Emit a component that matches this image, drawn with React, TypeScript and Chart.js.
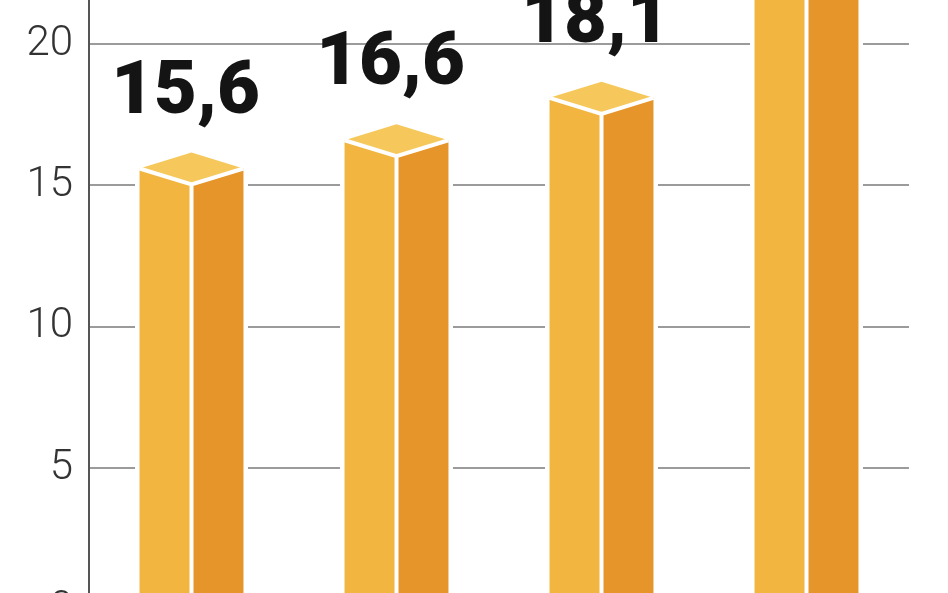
import React, { useEffect, useRef } from 'react';
import { Chart, registerables } from 'chart.js';

Chart.register(...registerables);

// ---- data ----
const categories: string[] = ['1', '2', '3', '4'];
const values: number[] = [15.6, 16.6, 18.1, 23.0];
const yTicks: number[] = [0, 5, 10, 15, 20];

const fmt = (v: number) => v.toFixed(1).replace('.', ',');

const COLORS = {
  left: '#F1B540',
  right: '#E6952A',
  top: '#F6C85C',
  grid: '#9b9b9b',
  axis: '#555555',
  tick: '#333333',
  label: '#141414',
};

const bar3d = {
  id: 'bar3d',
  afterDatasetsDraw(chart: any) {
    const ctx: CanvasRenderingContext2D = chart.ctx;
    const meta = chart.getDatasetMeta(0);
    meta.data.forEach((el: any, i: number) => {
      const { x, y, width, base } = el.getProps(['x', 'y', 'width', 'base'], true);
      const hw = width / 2;
      const d = 16;
      ctx.save();
      // white halo
      ctx.beginPath();
      ctx.moveTo(x - hw, base);
      ctx.lineTo(x - hw, y);
      ctx.lineTo(x, y - d);
      ctx.lineTo(x + hw, y);
      ctx.lineTo(x + hw, base);
      ctx.closePath();
      ctx.lineWidth = 9;
      ctx.lineJoin = 'miter';
      ctx.strokeStyle = '#ffffff';
      ctx.stroke();
      // left face
      ctx.beginPath();
      ctx.moveTo(x - hw, y);
      ctx.lineTo(x, y + d);
      ctx.lineTo(x, base);
      ctx.lineTo(x - hw, base);
      ctx.closePath();
      ctx.fillStyle = COLORS.left;
      ctx.fill();
      // right face
      ctx.beginPath();
      ctx.moveTo(x, y + d);
      ctx.lineTo(x + hw, y);
      ctx.lineTo(x + hw, base);
      ctx.lineTo(x, base);
      ctx.closePath();
      ctx.fillStyle = COLORS.right;
      ctx.fill();
      // top face
      ctx.beginPath();
      ctx.moveTo(x - hw, y);
      ctx.lineTo(x, y - d);
      ctx.lineTo(x + hw, y);
      ctx.lineTo(x, y + d);
      ctx.closePath();
      ctx.fillStyle = COLORS.top;
      ctx.fill();
      // dividers
      ctx.beginPath();
      ctx.moveTo(x - hw, y);
      ctx.lineTo(x, y + d);
      ctx.lineTo(x + hw, y);
      ctx.moveTo(x, y + d);
      ctx.lineTo(x, base);
      ctx.lineWidth = 4;
      ctx.strokeStyle = '#ffffff';
      ctx.stroke();
      // value label
      ctx.font = '900 74px Roboto';
      ctx.fillStyle = COLORS.label;
      ctx.textAlign = 'center';
      ctx.textBaseline = 'alphabetic';
      ctx.fillText(fmt(values[i]), x - 6, y - 56);
      ctx.restore();
    });
  },
};

export default function App() {
  const ref = useRef<HTMLCanvasElement | null>(null);

  useEffect(() => {
    if (!ref.current) return;
    const chart = new Chart(ref.current, {
      type: 'bar',
      data: {
        labels: categories,
        datasets: [
          {
            data: values,
            backgroundColor: 'rgba(0,0,0,0)',
            borderWidth: 0,
            barPercentage: 0.507,
            categoryPercentage: 1,
          },
        ],
      },
      options: {
        animation: false,
        responsive: false,
        layout: { padding: { left: 0, right: 39, top: 0, bottom: 0 } },
        plugins: { legend: { display: false }, tooltip: { enabled: false } },
        scales: {
          x: { display: false, offset: true, grid: { display: false } },
          y: {
            min: 0.587,
            max: 21.56,
            afterBuildTicks: (s: any) => {
              s.ticks = yTicks.map((v) => ({ value: v }));
            },
            afterFit: (s: any) => {
              s.width = 89;
              s.paddingTop = 0;
              s.paddingBottom = 0;
            },
            grid: { color: COLORS.grid, lineWidth: 2, drawTicks: false },
            border: { display: true, color: COLORS.axis, width: 2 },
            ticks: {
              padding: 16,
              color: COLORS.tick,
              font: { family: 'Roboto', size: 42, weight: '300' as any },
              callback: (v: any) => String(v),
            },
          },
        },
      },
      plugins: [bar3d],
    });
    return () => chart.destroy();
  }, []);

  return (
    <div style={{ position: 'fixed', left: 0, top: 0, width: 948, height: 593, background: '#fff' }}>
      <canvas ref={ref} width={948} height={593} style={{ display: 'block' }} />
    </div>
  );
}
